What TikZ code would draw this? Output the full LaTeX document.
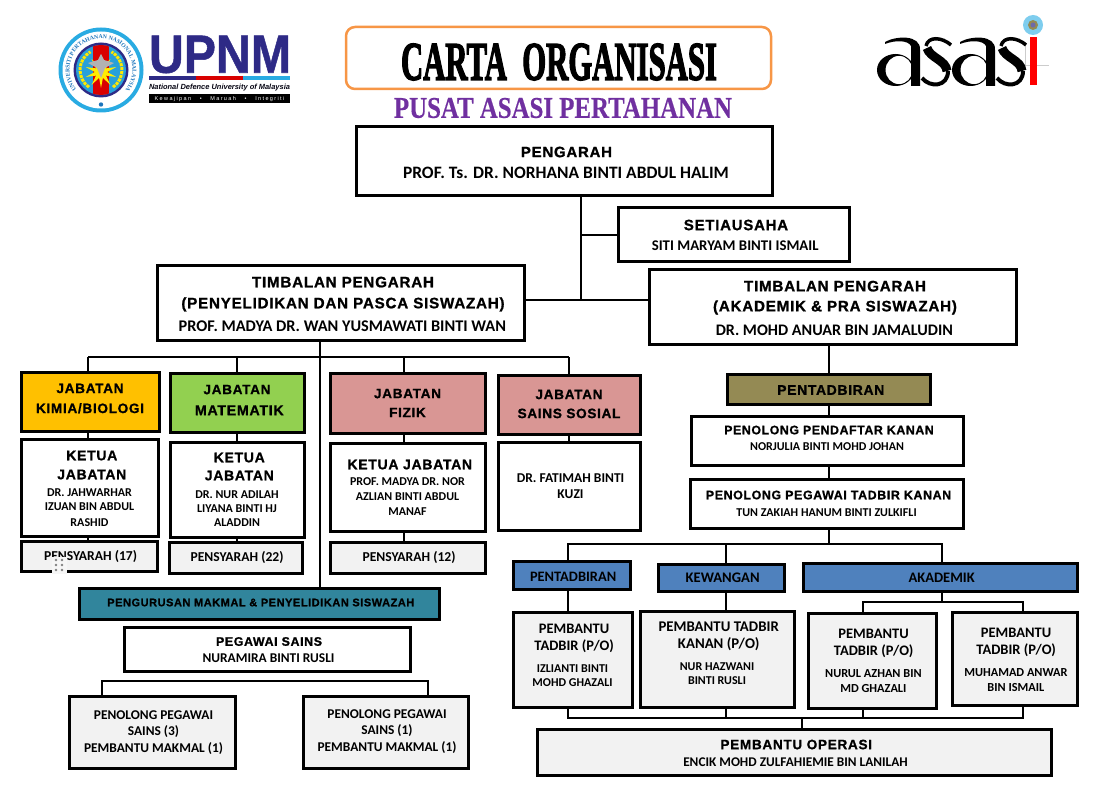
\documentclass[tikz,border=0pt]{standalone}
\usepackage{fontspec}
\usetikzlibrary{calc,decorations.text,shapes.geometric}
\setmainfont{Liberation Sans}
\newfontfamily\hdf{Liberation Sans}[LetterSpace=5,FakeBold=1]
\newfontfamily\nmf{Carlito}
\newfontfamily\srf{Liberation Serif}
\definecolor{orb}{HTML}{F79646}
\definecolor{purp}{HTML}{7030A0}
\definecolor{upnavy}{HTML}{2E2A86}
\definecolor{upcyan}{HTML}{29ABE2}
\definecolor{upblue}{HTML}{1C75BC}
\definecolor{lgrey}{HTML}{F2F2F2}
\definecolor{kimia}{HTML}{FFC000}
\definecolor{mate}{HTML}{92D050}
\definecolor{rose}{HTML}{D99694}
\definecolor{teal1}{HTML}{31859C}
\definecolor{olive1}{HTML}{948A54}
\definecolor{blue1}{HTML}{4F81BD}
\newcommand{\hd}[1][13.6]{\hdf\bfseries\fontsize{#1}{#1}\selectfont}
\newcommand{\nm}[1][12]{\nmf\bfseries\fontsize{#1}{#1}\selectfont}
\tikzset{
  bx/.style={draw=black,line width=3pt,outer sep=0pt,inner sep=0pt,fill=white},
  wire/.style={draw=black,line width=2pt},
  gf/.style={fill=lgrey},
  txt/.style={inner sep=0pt,align=center},
}
% \bx[style]{name}{x1}{y1}{x2}{y2}{dy}{text}
\newcommand{\bx}[7][]{%
  \pgfmathsetmacro\bw{#5-#3}\pgfmathsetmacro\bh{#6-#4}%
  \pgfmathsetmacro\cxx{(#3+#5)/2}\pgfmathsetmacro\cyy{(#4+#6)/2}%
  \node[bx,minimum width=\bw pt,minimum height=\bh pt,#1] (#2) at (\cxx,\cyy) {};
  \bxtext{#2}{#7}}
\newcommand{\bxtext}[3]{\node[txt] (#1-t) at ($(#1.center)+(0,#2)$) {#3};}
\begin{document}
\begin{tikzpicture}[x=1pt,y=-1pt]
\useasboundingbox (0,0) rectangle (1118,791);
% ---------- UPNM logo
\fill[upcyan] (101,70) circle (42.5);
\fill[white] (101,70) circle (38.5);
\begin{scope}[shift={(101,70)},y=1pt]
\path[decorate,decoration={text along path,text align=center,text={|\srf\bfseries\fontsize{5.8}{7}\selectfont\color{upblue}|UNIVERSITI PERTAHANAN NASIONAL MALAYSIA}}]
  (240:31.5) arc[start angle=240,end angle=-60,radius=31.5];
\end{scope}
\fill[upblue] (101,104.5) circle (2.2);
\fill[upnavy] (101,70) circle (27.5);
\fill[upcyan!80!upblue] (101,70) circle (25);
\begin{scope}
\clip (101,70) circle (25);
\fill[red!85!black] (93,40) rectangle (109,100);
\end{scope}
\draw[yellow!90!orange,line width=3pt,dash pattern=on 3pt off 1pt] (101,70) ++(125:21) arc[start angle=125,end angle=240,radius=21];
\draw[yellow!90!orange,line width=3pt,dash pattern=on 3pt off 1pt] (101,70) ++(55:21) arc[start angle=55,end angle=-60,radius=21];
\node[star,star points=10,star point ratio=2.6,fill=yellow!95!orange,minimum size=32pt,inner sep=0pt] (upstar) at (101,72) {};
\fill[gray!60] (101,54) -- (104,60) -- (114,63) -- (105,68) -- (101,78) -- (97,68) -- (88,63) -- (98,60) -- cycle;
\node[txt,text=upnavy] (upnm) at (220,54.5) {\resizebox{142pt}{37pt}{\addfontfeature{FakeBold=1}\bfseries UPNM}};
\fill[upnavy] (149,76) rectangle (196,80.5);
\fill[red!85!black] (196,76) rectangle (243,80.5);
\fill[upcyan] (243,76) rectangle (290,80.5);
\node[txt,text=black!85!upnavy] (nd) at (219.5,87.3) {\resizebox{141pt}{!}{\itshape\bfseries National Defence University of Malaysia}};
\fill[black] (149,94) rectangle (290,103.5);
\node[txt,text=white] (kw) at (219.5,98.7) {\addfontfeature{LetterSpace=25}\fontsize{5.5}{6}\selectfont Kewajipan\ \ \ \textbullet\ \ \ Maruah\ \ \ \textbullet\ \ \ Integriti};
% ---------- title
\node[draw=orb,line width=2.5pt,rounded corners=9pt,minimum width=425pt,minimum height=62pt,outer sep=0pt,inner sep=0pt,fill=white] (tbox) at (558.5,58) {};
\node[txt] (ttl) at (559,62) {\resizebox{316pt}{36pt}{\srf\addfontfeature{FakeBold=3}\bfseries CARTA\ \ ORGANISASI}};
\node[txt,text=purp] (sub) at (563,108) {\resizebox{338pt}{20pt}{\srf\addfontfeature{FakeBold=0.5}\bfseries PUSAT ASASI PERTAHANAN}};
% ---------- asasi logo
\draw[gray!40,line width=0.7pt] (1025,42) -- (1025,65) -- (1049,65);
\foreach \ox in {0,75}{
\begin{scope}[xshift=\ox pt]
 % a
 \fill[black,even odd rule] (895.5,70) ellipse [x radius=18.5,y radius=16] (899,70) ellipse [x radius=13.5,y radius=14.2];
 \fill[black] (911,46) .. controls (908,40) and (895,40) .. (885,44) -- (885,42) .. controls (895,36) and (921,34) .. (920,50) -- (920,86) -- (911,86) -- cycle;
 % s
 \draw[black,line width=3.5pt] (951,45) .. controls (942,37) and (928,36) .. (926,46);
 \draw[black,line width=9pt] (927,48) .. controls (930,58) and (946,60) .. (947,71);
 \draw[black,line width=4pt] (948,71) .. controls (948,87) and (930,88) .. (922,78);
\end{scope}}
\fill[red] (1030,37) rectangle (1037,85);
\fill[upcyan!60] (1033,25) circle (10);
\fill[olive1] (1033,25) circle (5);
\fill[upnavy!70] (1033,25) circle (2.5);
% ---------- upper tree
\bx{pengarah}{356}{127}{772}{196}{1}{{\hd[15] PENGARAH}\\[9pt]{\nm[17.4] PROF. Ts. DR. NORHANA BINTI ABDUL HALIM}}
\bx{setia}{618}{208}{849}{262}{0}{{\hd[15] SETIAUSAHA}\\[8pt]{\nm[14.8] SITI MARYAM BINTI ISMAIL}}
\bx{tpl}{157}{266}{524}{340}{1}{{\hd[15.2] TIMBALAN PENGARAH}\\[9pt]{\hd[15.2] (PENYELIDIKAN DAN PASCA SISWAZAH)}\\[8pt]{\nm[16.3] PROF. MADYA DR. WAN YUSMAWATI BINTI WAN}}
\bx{tpr}{649}{270}{1016}{344}{1}{{\hd[15.2] TIMBALAN PENGARAH}\\[8pt]{\hd[15.2] (AKADEMIK \& PRA SISWAZAH)}\\[9pt]{\nm[16.1] DR. MOHD ANUAR BIN JAMALUDIN}}
\coordinate (t) at (581,300);
\draw[wire] (t |- pengarah.south) -- (t);
\draw[wire] (t |- setia.west) -- (setia.west);
\draw[wire] (tpl.east |- t) -- (tpr.west |- t);
% ---------- departments
\bx[fill=kimia]{kimia}{21}{372}{159}{431}{-3}{{\hd JABATAN}\\[8pt]{\hd KIMIA/BIOLOGI}}
\bx[fill=mate]{mate}{170}{373}{304}{432}{-2.5}{{\hd JABATAN}\\[9pt]{\hd[14.2] MATEMATIK}}
\bx[fill=rose]{fizik}{330}{373}{485}{433}{0}{{\hd JABATAN}\\[7pt]{\hd FIZIK}}
\bx[fill=rose]{sosial}{498}{375}{640}{434}{-.5}{{\hd JABATAN}\\[7pt]{\hd SAINS SOSIAL}}
\bx{k1}{21}{439}{158}{536}{1}{{\hd[14] KETUA}\\[7pt]{\hd[14] JABATAN}\\[5pt]{\nm DR. JAHWARHAR}\\[2pt]{\nm IZUAN BIN ABDUL}\\[4pt]{\nm RASHID}}
\bx{k2}{170}{442}{304}{537}{0}{{\hd[14] KETUA}\\[6pt]{\hd[14] JABATAN}\\[6pt]{\nm DR. NUR ADILAH}\\[2pt]{\nm LIYANA BINTI HJ}\\[2pt]{\nm ALADDIN}}
\bx{k3}{330}{443}{485}{531}{0.5}{{\hd[14] KETUA JABATAN}\\[4pt]{\nm PROF. MADYA DR. NOR}\\[3pt]{\nm AZLIAN BINTI ABDUL}\\[3pt]{\nm MANAF}}
\bx{k4}{498}{442}{640}{530}{0}{{\nm[13.5] DR. FATIMAH BINTI}\\[4pt]{\nm[13.5] KUZI}}
\bx[gf]{p1}{21}{541}{157}{571}{0}{\nm[13.6] PENSYARAH (17)}
\bx[gf]{p2}{169}{542}{302}{573}{0}{\nm[13.6] PENSYARAH (22)}
\bx[gf]{p3}{330}{542}{485}{573}{0}{\nm[13.6] PENSYARAH (12)}
\coordinate (s) at (320,357);
\coordinate (a1) at (88,357);
\coordinate (a2) at (237,357);
\coordinate (a3) at (404,357);
\coordinate (a4) at (569,357);
\draw[wire] (a1) -- (a4);
\bx[fill=teal1]{makmal}{79}{588}{439}{619}{-1}{\hd[11] PENGURUSAN MAKMAL \& PENYELIDIKAN SISWAZAH}
\draw[wire] (s |- tpl.south) -- (s |- makmal.north);
\foreach \c/\d/\k/\p in {a1/kimia/k1/p1,a2/mate/k2/p2,a3/fizik/k3/p3}{
  \draw[wire] (\c) -- (\c |- \d.north);
  \draw[wire] (\c |- \d.south) -- (\c |- \k.north);
  \draw[wire] (\c |- \k.south) -- (\c |- \p.north);
}
\draw[wire] (a4) -- (a4 |- sosial.north);
\draw[wire] (a4 |- sosial.south) -- (a4 |- k4.north);
% drag handle
\fill[white!93!gray] (52,557) rectangle (67,574);
\foreach \dx in {56,62}{\foreach \dy in {560,565,570}{\fill[gray] (\dx,\dy) circle (1.3);}}
% ---------- makmal
\bx{psains}{124}{627}{410}{671}{1}{{\hd[12.4] PEGAWAI SAINS}\\[5pt]{\nm[13.4] NURAMIRA BINTI RUSLI}}
\bx[gf]{pn1}{69}{696}{235}{768}{1}{{\nm[13.4] PENOLONG PEGAWAI}\\[4pt]{\nm[13.4] SAINS (3)}\\[5pt]{\nm[13.4] PEMBANTU MAKMAL (1)}}
\bx[gf]{pn2}{303}{696}{468}{768}{0}{{\nm[13.4] PENOLONG PEGAWAI}\\[4pt]{\nm[13.4] SAINS (1)}\\[5pt]{\nm[13.4] PEMBANTU MAKMAL (1)}}
\coordinate (m1) at (102,681);
\coordinate (m2) at (428,681);
\draw[wire] (m1 |- pn1.north) -- (m1) -- (m2) -- (m2 |- pn2.north);
% ---------- right column
\bx[fill=olive1]{pent}{727}{374}{930}{404}{1}{\hd[13.9] PENTADBIRAN}
\bx{pdk}{691}{416}{963}{465}{-2.5}{{\hd[12.3] PENOLONG PENDAFTAR KANAN}\\[4pt]{\nm NORJULIA BINTI MOHD JOHAN}}
\bx{ptk}{690}{479}{963}{528}{0}{{\hd[12.4] PENOLONG PEGAWAI TADBIR KANAN}\\[5pt]{\nm TUN ZAKIAH HANUM BINTI ZULKIFLI}}
\coordinate (r) at (829,544);
\draw[wire] (r |- tpr.south) -- (r |- pent.north);
\draw[wire] (r |- pent.south) -- (r |- pdk.north);
\draw[wire] (r |- pdk.south) -- (r |- ptk.north);
\draw[wire] (r |- ptk.south) -- (r);
\bx[fill=blue1]{bp}{513}{561}{630}{589}{1.5}{\nm[14.4] PENTADBIRAN}
\bx[fill=blue1]{bk}{658}{564}{784}{591}{0}{\nm[14.6] KEWANGAN}
\bx[fill=blue1]{ba}{803}{563}{1077}{591}{.5}{\nm[14.5] AKADEMIK}
\coordinate (b1) at (568,544);
\coordinate (b2) at (726,544);
\coordinate (b3) at (942,544);
\draw[wire] (b1 |- bp.north) -- (b1) -- (b3) -- (b3 |- ba.north);
\draw[wire] (b2) -- (b2 |- bk.north);
\bx[gf]{t1}{513}{612}{632}{707}{-4}{{\nm[14.5] PEMBANTU}\\[5pt]{\nm[14.5] TADBIR (P/O)}\\[10pt]{\nm IZLIANTI BINTI}\\[2pt]{\nm MOHD GHAZALI}}
\bx[gf]{t2}{640}{611}{794}{707}{-5.5}{{\nm[14.8] PEMBANTU TADBIR}\\[5pt]{\nm[14.8] KANAN (P/O)}\\[10pt]{\nm NUR HAZWANI}\\[2pt]{\nm BINTI RUSLI}}
\bx[gf]{t3}{808}{613}{936}{708}{.5}{{\nm[14.5] PEMBANTU}\\[5pt]{\nm[14.5] TADBIR (P/O)}\\[10pt]{\nm[12.3] NURUL AZHAN BIN}\\[3pt]{\nm[12.3] MD GHAZALI}}
\bx[gf]{t4}{952}{612}{1077}{705}{1}{{\nm[14.5] PEMBANTU}\\[5pt]{\nm[14.5] TADBIR (P/O)}\\[10pt]{\nm[12.3] MUHAMAD ANWAR}\\[3pt]{\nm[12.3] BIN ISMAIL}}
\bx[gf]{ops}{537}{729}{1051}{775}{1}{{\hd[13.6] PEMBANTU OPERASI}\\[5pt]{\nm[13.3] ENCIK MOHD ZULFAHIEMIE BIN LANILAH}}
\draw[wire] (b1 |- bp.south) -- (b1 |- t1.north);
\draw[wire] (b2 |- bk.south) -- (b2 |- t2.north);
\coordinate (c) at (942,602);
\coordinate (c1) at (863,602);
\coordinate (c2) at (1023,602);
\draw[wire] (c |- ba.south) -- (c);
\draw[wire] (c1 |- t3.north) -- (c1) -- (c2) -- (c2 |- t4.north);
\coordinate (d1) at (568,718);
\coordinate (d2) at (726,718);
\coordinate (d3) at (863,718);
\coordinate (d4) at (1023,718);
\coordinate (d5) at (802,718);
\draw[wire] (d1 |- t1.south) -- (d1) -- (d4) -- (d4 |- t4.south);
\draw[wire] (d2 |- t2.south) -- (d2);
\draw[wire] (d3 |- t3.south) -- (d3);
\draw[wire] (d5) -- (d5 |- ops.north);
\end{tikzpicture}
\end{document}
